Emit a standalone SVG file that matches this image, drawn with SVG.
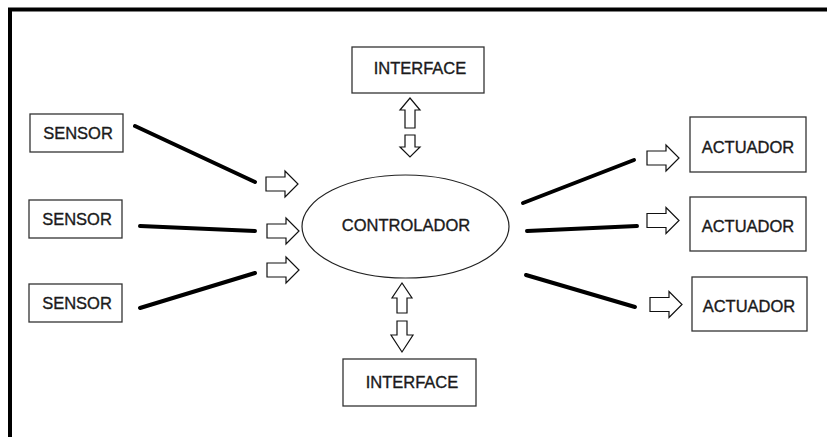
<svg xmlns="http://www.w3.org/2000/svg" width="827" height="437" viewBox="0 0 827 437">
<style>
.box{fill:#fff;stroke:#333;stroke-width:1.3}
.lbl{font-family:"Liberation Sans",Arial,sans-serif;font-size:16.5px;fill:#1a1a1a;stroke:#1a1a1a;stroke-width:0.35;text-anchor:middle}
.ln{stroke:#000;stroke-width:4;stroke-linecap:round;fill:none}
.ar{fill:#fff;stroke:#111;stroke-width:1.2;stroke-linejoin:miter}
</style>
<defs>
<path id="ra" class="ar" d="M0,-7 H19 V-13 L32,0 L19,13 V7 H0 Z"/>
</defs>
<rect x="0" y="0" width="827" height="437" fill="#fff"/>
<path d="M10,437 V9.5 H827" fill="none" stroke="#000" stroke-width="4"/>
<g id="sensor1"><rect class="box" x="30" y="114" width="93" height="38"/><text class="lbl" x="78" y="139">SENSOR</text></g>
<g id="sensor2"><rect class="box" x="29" y="200" width="93" height="38"/><text class="lbl" x="77" y="225">SENSOR</text></g>
<g id="sensor3"><rect class="box" x="29" y="284" width="93" height="38"/><text class="lbl" x="77" y="309">SENSOR</text></g>
<g id="controlador"><ellipse cx="405.5" cy="226.5" rx="103.5" ry="51.5" fill="#fff" stroke="#222" stroke-width="1.2"/><text class="lbl" x="406" y="231">CONTROLADOR</text></g>
<g id="interface1"><rect class="box" x="352" y="47" width="132" height="46"/><text class="lbl" x="420" y="74">INTERFACE</text></g>
<g id="interface2"><rect class="box" x="343" y="359" width="133" height="47"/><text class="lbl" x="412" y="388">INTERFACE</text></g>
<g id="actuador1"><rect class="box" x="690" y="117" width="116" height="55"/><text class="lbl" x="748" y="153">ACTUADOR</text></g>
<g id="actuador2"><rect class="box" x="690" y="197" width="116" height="54"/><text class="lbl" x="748" y="232">ACTUADOR</text></g>
<g id="actuador3"><rect class="box" x="692" y="277" width="115" height="54"/><text class="lbl" x="749" y="312">ACTUADOR</text></g>
<g id="connectors">
<line class="ln" x1="135" y1="126" x2="255" y2="182"/>
<line class="ln" x1="140" y1="226" x2="255" y2="231"/>
<line class="ln" x1="140" y1="308" x2="255" y2="273"/>
<line class="ln" x1="523" y1="203" x2="634" y2="160"/>
<line class="ln" x1="527" y1="231" x2="637" y2="226"/>
<line class="ln" x1="526" y1="275" x2="635" y2="307"/>
<use href="#ra" x="266" y="184"/>
<use href="#ra" x="267" y="231"/>
<use href="#ra" x="267" y="270"/>
<use href="#ra" x="647" y="158"/>
<use href="#ra" x="647" y="220.5"/>
<use href="#ra" x="650" y="304.5"/>
<path class="ar" d="M405,128 V110 H400 L410,98 L420,110 H415 V128 Z"/>
<path class="ar" d="M405,135 V147 H400 L410,157 L420,147 H415 V135 Z"/>
<path class="ar" d="M397,313 V298 H392 L402,283 L412,298 H407 V313 Z"/>
<path class="ar" d="M397,321 V335 H391 L402,352 L413,335 H407 V321 Z"/>
</g>
</svg>
